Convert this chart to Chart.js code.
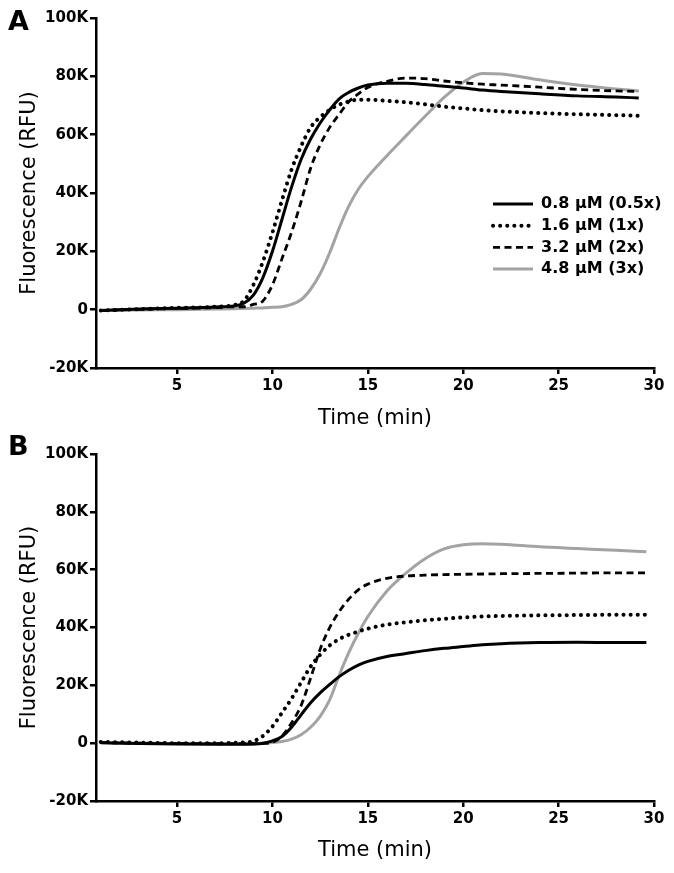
<!DOCTYPE html>
<html>
<head>
<meta charset="utf-8">
<script src="https://cdn.jsdelivr.net/npm/chart.js@4.4.1/dist/chart.umd.min.js"></script>
<style>
body{margin:0;background:#fff;width:674px;height:873px;position:relative;overflow:hidden}
canvas{position:absolute;left:0}
#chartA{top:0}
#chartB{top:436px}
.panel{position:absolute;left:8px;font:bold 27px "DejaVu Sans";line-height:27px;z-index:2}
</style>
</head>
<body>
<canvas id="chartA" width="674" height="436"></canvas>
<canvas id="chartB" width="674" height="437"></canvas>
<div class="panel" style="top:7px">A</div>
<div class="panel" style="top:432px">B</div>
<script>
// values, fluorescence in thousands of RFU
const seriesLabels = ["0.8 µM (0.5x)", "1.6 µM (1x)", "3.2 µM (2x)", "4.8 µM (3x)"];
const timeTicks = [5, 10, 15, 20, 25, 30];
const yTicks = [-20, 0, 20, 40, 60, 80, 100];

const timeA = [1, 3, 5, 7, 8, 8.5, 9, 9.5, 10, 10.5, 11, 11.5, 12, 12.5, 13, 13.5, 14, 14.5, 15, 16, 17, 18, 19, 20, 21, 22, 24, 26, 28, 29.2];
const solidA  = [-0.3, 0.2, 0.5, 0.9, 1.3, 2.2, 5, 11, 20, 31, 42, 51.5, 58.5, 64, 68.5, 72.3, 74.5, 76, 77, 77.6, 77.6, 77.2, 76.6, 76, 75.3, 74.8, 74, 73.3, 72.9, 72.6];
const dottedA = [-0.3, 0.2, 0.6, 1.0, 1.6, 3.0, 8.5, 16.5, 26.5, 37.5, 48, 56, 62.5, 66, 68.5, 70.3, 71.4, 72, 72, 71.6, 71.1, 70.4, 69.6, 69, 68.4, 68, 67.4, 67, 66.7, 66.5];
const dashedA = [-0.3, 0.1, 0.4, 0.7, 1.0, 1.0, 1.8, 3.0, 8.5, 17.5, 26.5, 37, 48.5, 56.5, 62.5, 67, 71.3, 74, 76.2, 78.3, 79.4, 79.2, 78.4, 77.8, 77.3, 77, 76.3, 75.5, 75, 74.8];
const grayA   = [-0.3, -0.1, 0, 0.2, 0.3, 0.4, 0.5, 0.6, 0.8, 1.0, 1.8, 3.4, 7, 12.3, 19.5, 28, 35.5, 41.3, 45.6, 52.8, 59.6, 66.3, 72.8, 78, 81, 80.8, 78.8, 77, 75.7, 75];

const timeB = [1, 3, 5, 7, 8, 8.5, 9, 9.5, 10, 10.5, 11, 11.5, 12, 12.5, 13, 13.5, 14, 14.5, 15, 16, 17, 18, 19, 20, 21, 22, 24, 26, 28, 29.6];
const solidB  = [0.2, -0.1, -0.3, -0.4, -0.4, -0.4, -0.3, 0, 0.8, 2.3, 5.5, 9.8, 14, 17.4, 20.3, 23, 25.2, 27, 28.3, 30, 31, 32, 32.8, 33.4, 34, 34.4, 34.8, 34.9, 34.8, 34.8];
const dottedB = [0.4, 0.2, 0, 0, 0.1, 0.3, 0.7, 2.5, 5.8, 10.5, 15.4, 21, 26.5, 30.6, 33.8, 36, 37.5, 38.6, 39.6, 41, 41.8, 42.5, 43, 43.5, 43.8, 44, 44.2, 44.3, 44.4, 44.4];
const dashedB = [0.2, 0, -0.1, -0.2, -0.2, -0.2, -0.2, -0.1, 0.3, 2.5, 7, 13, 22.5, 32.5, 40, 45.5, 49.8, 53, 55, 57, 57.8, 58.1, 58.3, 58.4, 58.5, 58.6, 58.7, 58.8, 58.9, 58.9];
const grayB   = [0, 0, -0.1, -0.1, -0.1, -0.1, 0, 0, 0.2, 0.6, 1.4, 2.9, 5.5, 9.3, 15, 23.5, 31.3, 38, 43.8, 52.6, 58.8, 63.8, 67.2, 68.6, 69, 68.8, 67.9, 67.3, 66.7, 66.2];

const FONT = '"DejaVu Sans"';

function pts(t, v) {
    return t.map(function(x, i){ return {x: x, y: v[i]}; });
}

function makeSets(t, s1, s2, s3, s4) {
    const base = {pointRadius: 0, fill: false, cubicInterpolationMode: "monotone"};
    return [
        Object.assign({label: seriesLabels[0], data: pts(t, s1), borderColor: "#000", borderWidth: 3}, base),
        Object.assign({label: seriesLabels[1], data: pts(t, s2), borderColor: "#000", borderWidth: 4, borderDash: [0.1, 7], borderCapStyle: "round"}, base),
        Object.assign({label: seriesLabels[2], data: pts(t, s3), borderColor: "#000", borderWidth: 2.8, borderDash: [7, 4.5]}, base),
        Object.assign({label: seriesLabels[3], data: pts(t, s4), borderColor: "#a3a3a3", borderWidth: 3}, base)
    ];
}

// legend drawn inside the plot area, to the right
const sideLegend = {
    id: "sideLegend",
    afterDraw: function(chart, args, opts) {
        if (!opts.show) return;
        const ctx = chart.ctx;
        const area = chart.chartArea;
        ctx.save();
        chart.data.datasets.forEach(function(ds, i){
            const x = area.left + opts.x;
            const y = area.top + opts.y + i * opts.gap;
            ctx.beginPath();
            ctx.setLineDash(ds.borderDash || []);
            ctx.lineCap = ds.borderCapStyle || "butt";
            ctx.lineWidth = ds.borderWidth;
            ctx.strokeStyle = ds.borderColor;
            ctx.moveTo(x, y);
            ctx.lineTo(x + 40, y);
            ctx.stroke();
            ctx.setLineDash([]);
            ctx.fillStyle = "#000";
            ctx.font = "bold 16px " + FONT;
            ctx.textBaseline = "middle";
            ctx.textAlign = "left";
            ctx.fillText(ds.label, x + 48, y);
        });
        ctx.restore();
    }
};

function makeChart(id, t, sets, xHeight, titlePad, showLegend) {
    return new Chart(document.getElementById(id), {
        type: "line",
        data: {datasets: makeSets(t, sets[0], sets[1], sets[2], sets[3])},
        plugins: [sideLegend],
        options: {
            responsive: false,
            animation: false,
            devicePixelRatio: 1,
            layout: {padding: {top: 18, right: 20, left: 0, bottom: 0}},
            plugins: {
                legend: {display: false},
                tooltip: {enabled: false},
                sideLegend: {show: showLegend, x: 397, y: 186, gap: 21.7}
            },
            scales: {
                x: {
                    type: "linear",
                    min: 0.75,
                    max: 30,
                    afterBuildTicks: function(s){ s.ticks = timeTicks.map(function(v){ return {value: v}; }); },
                    afterFit: function(s){ s.height = xHeight; },
                    grid: {drawOnChartArea: false, color: "#000", lineWidth: 2.5, tickLength: 6},
                    border: {color: "#000", width: 2.5},
                    ticks: {color: "#000", padding: 3, font: {family: FONT, size: 15, weight: "bold"}, maxRotation: 0},
                    title: {display: true, text: "Time (min)", color: "#000", font: {family: FONT, size: 21}, padding: {top: 0, bottom: titlePad}}
                },
                y: {
                    min: -20,
                    max: 100,
                    afterBuildTicks: function(s){ s.ticks = yTicks.map(function(v){ return {value: v}; }); },
                    afterFit: function(s){ s.width = 96; },
                    grid: {drawOnChartArea: false, color: "#000", lineWidth: 2.5, tickLength: 6},
                    border: {color: "#000", width: 2.5},
                    ticks: {
                        color: "#000", padding: 2,
                        font: {family: FONT, size: 15, weight: "bold"},
                        callback: function(v){ return v === 0 ? "0" : v + "K"; }
                    },
                    title: {display: true, text: "Fluorescence (RFU)", color: "#000", font: {family: FONT, size: 21}, padding: {top: 17, bottom: 0}}
                }
            }
        }
    });
}

makeChart("chartA", timeA, [solidA, dottedA, dashedA, grayA], 68, 4.4, true);
makeChart("chartB", timeB, [solidB, dottedB, dashedB, grayB], 72, 9.4, false);
</script>
</body>
</html>
